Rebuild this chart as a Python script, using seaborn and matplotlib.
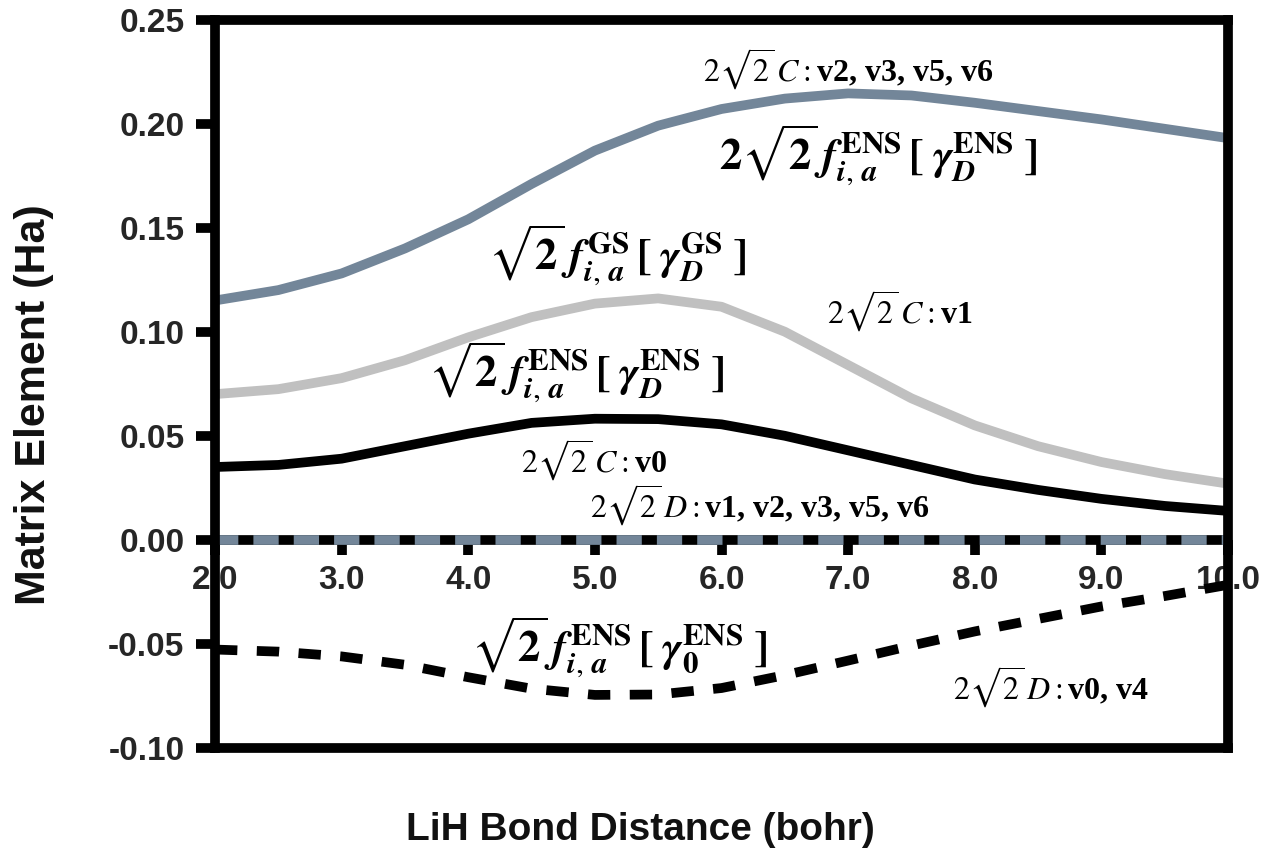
import numpy as np
import pandas as pd
import matplotlib
matplotlib.use("Agg")
import matplotlib.pyplot as plt
import seaborn as sns

# LiH bond distance grid (bohr)
bond_distance = [2.0, 2.5, 3.0, 3.5, 4.0, 4.5, 5.0, 5.5, 6.0, 6.5, 7.0, 7.5, 8.0, 8.5, 9.0, 9.5, 10.0]

# Matrix elements (Ha)
ens_2sqrt2_c = [0.115, 0.120, 0.128, 0.140, 0.154, 0.171, 0.187, 0.199, 0.207, 0.212,
                0.2145, 0.2135, 0.210, 0.206, 0.202, 0.1975, 0.193]
gs_c_v1 = [0.070, 0.0724, 0.0777, 0.0863, 0.0973, 0.107, 0.1135, 0.116, 0.112, 0.100,
           0.084, 0.068, 0.055, 0.045, 0.0374, 0.0316, 0.027]
ens_c_v0 = [0.035, 0.036, 0.039, 0.045, 0.051, 0.0562, 0.0582, 0.058, 0.0555, 0.050,
            0.043, 0.036, 0.029, 0.024, 0.0197, 0.0163, 0.0139]
ens_d_v0v4 = [-0.0527, -0.0537, -0.056, -0.060, -0.066, -0.0715, -0.0745, -0.0743, -0.0712,
              -0.065, -0.058, -0.0508, -0.044, -0.038, -0.032, -0.027, -0.0216]
ens_d_other = [0.0] * len(bond_distance)
gs_d_zero = [0.0] * len(bond_distance)

x_ticks = [2.0, 3.0, 4.0, 5.0, 6.0, 7.0, 8.0, 9.0, 10.0]
x_tick_labels = ["2.0", "3.0", "4.0", "5.0", "6.0", "7.0", "8.0", "9.0", "10.0"]
y_ticks = [0.25, 0.20, 0.15, 0.10, 0.05, 0.00, -0.05, -0.10]
y_tick_labels = ["0.25", "0.20", "0.15", "0.10", "0.05", "0.00", "-0.05", "-0.10"]

SLATE = "#738699"
LIGHT = "#c0c0c0"
INK = "#000000"

sns.set_style("white")
plt.rcParams["mathtext.fontset"] = "stix"
plt.rcParams["font.family"] = ["Liberation Sans", "DejaVu Sans"]

fig = plt.figure(figsize=(12.78, 8.52), dpi=100)
ax = fig.add_axes([215 / 1278, 1 - 748 / 852, (1228 - 215) / 1278, (748 - 19.5) / 852])

df = pd.DataFrame({
    "r": bond_distance,
    "ens_c": ens_2sqrt2_c,
    "gs_c": gs_c_v1,
    "ens_c0": ens_c_v0,
    "ens_d0": ens_d_v0v4,
    "ens_d": ens_d_other,
    "gs_d": gs_d_zero,
})

LW = 7
curve_kw = dict(ax=ax, linewidth=LW, solid_joinstyle="round", solid_capstyle="butt")
# zero-valued series: black dashes under slate dashes
sns.lineplot(data=df, x="r", y="gs_d", color=INK, **curve_kw)
sns.lineplot(data=df, x="r", y="ens_d", ax=ax, color=SLATE, linewidth=LW,
             linestyle=(0.2, (2.6, 1.55)), dash_capstyle="butt")

sns.lineplot(data=df, x="r", y="ens_c", color=SLATE, **curve_kw)
sns.lineplot(data=df, x="r", y="gs_c", color=LIGHT, **curve_kw)
sns.lineplot(data=df, x="r", y="ens_c0", color=INK, **curve_kw)
sns.lineplot(data=df, x="r", y="ens_d0", ax=ax, color=INK, linewidth=LW,
             linestyle=(0, (2.3, 2.0)), dash_capstyle="butt", dash_joinstyle="round")

ax.set_xlim(2.0, 10.0)
ax.set_ylim(-0.10, 0.25)
ax.set_xlabel("")
ax.set_ylabel("")

for side in ["left", "right", "top", "bottom"]:
    ax.spines[side].set_visible(True)
    ax.spines[side].set_color(INK)
    ax.spines[side].set_linewidth(7)

ax.set_xticks([])
ax.set_yticks(y_ticks, y_tick_labels)
ax.tick_params(axis="y", which="major", left=True, direction="out", length=14, width=7,
               color=INK, pad=8, labelsize=24)
for lab in ax.get_yticklabels():
    lab.set_fontweight("bold")

# x axis drawn along the zero line
zero_frac = (0.0 - (-0.10)) / 0.35
secax = ax.secondary_xaxis(zero_frac)
secax.spines["bottom"].set_visible(False)
secax.set_xticks(x_ticks, x_tick_labels)
secax.tick_params(axis="x", direction="out", length=11, width=7, color=INK, pad=7, labelsize=24)
for lab in secax.get_xticklabels():
    lab.set_fontweight("bold")

fig.text(640 / 1278, 1 - 830 / 852, "LiH Bond Distance (bohr)", ha="center", va="center",
         fontsize=28, fontweight="bold", color="#111111")
fig.text(34 / 1278, 1 - 405 / 852, "Matrix Element (Ha)", ha="center", va="center",
         rotation=90, fontsize=31, fontweight="bold", color="#111111")

small_kw = dict(ha="center", va="center", fontsize=23, fontweight="bold",
                family=["Liberation Serif", "DejaVu Serif"], color=INK)
big_kw = dict(ha="center", va="center", fontsize=32, color=INK)

ax.text(7.00, 0.2263, r"$2\sqrt{2}\,C:$v2, v3, v5, v6", **small_kw)
ax.text(7.41, 0.1098, r"$2\sqrt{2}\,C:$v1", **small_kw)
ax.text(4.99, 0.0383, r"$2\sqrt{2}\,C:$v0", **small_kw)
ax.text(6.30, 0.0168, r"$2\sqrt{2}\,D:$v1, v2, v3, v5, v6", **small_kw)
ax.text(8.60, -0.0709, r"$2\sqrt{2}\,D:$v0, v4", **small_kw)

ax.text(7.24, 0.1846,
        r"$\mathbf{2}\sqrt{\mathbf{2}}\,\boldsymbol{f}^{\,\mathbf{ENS}}_{\boldsymbol{i,\,a}}\,\mathbf{[}\;\boldsymbol{\gamma}^{\mathbf{ENS}}_{\boldsymbol{D}}\;\mathbf{]}$",
        **big_kw)
ax.text(5.175, 0.1366,
        r"$\sqrt{\mathbf{2}}\,\boldsymbol{f}^{\,\mathbf{GS}}_{\boldsymbol{i,\,a}}\,\mathbf{[}\;\boldsymbol{\gamma}^{\mathbf{GS}}_{\boldsymbol{D}}\;\mathbf{]}$",
        **big_kw)
ax.text(4.85, 0.0805,
        r"$\sqrt{\mathbf{2}}\,\boldsymbol{f}^{\,\mathbf{ENS}}_{\boldsymbol{i,\,a}}\,\mathbf{[}\;\boldsymbol{\gamma}^{\mathbf{ENS}}_{\boldsymbol{D}}\;\mathbf{]}$",
        **big_kw)
ax.text(5.19, -0.0518,
        r"$\sqrt{\mathbf{2}}\,\boldsymbol{f}^{\,\mathbf{ENS}}_{\boldsymbol{i,\,a}}\,\mathbf{[}\;\boldsymbol{\gamma}^{\mathbf{ENS}}_{\boldsymbol{0}}\;\mathbf{]}$",
        **big_kw)

fig.savefig("out.png", dpi=100)
